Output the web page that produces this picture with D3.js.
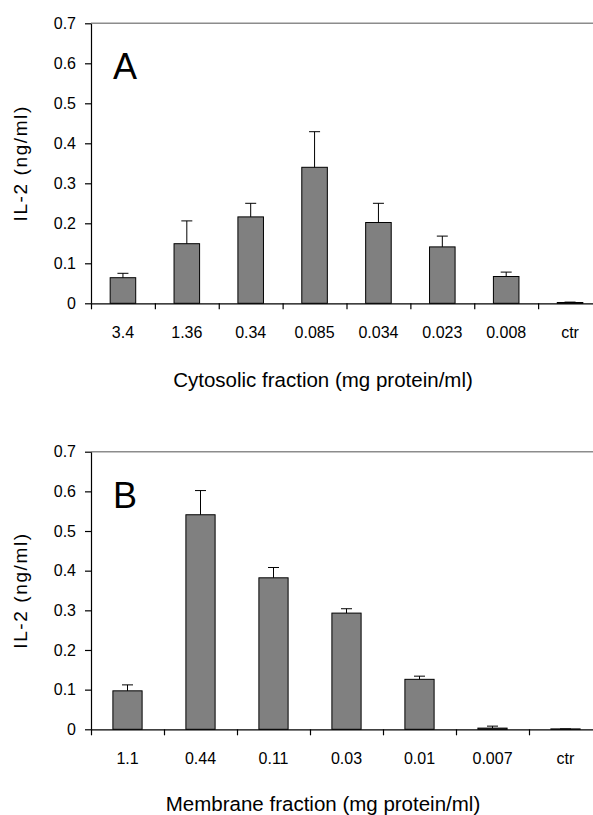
<!DOCTYPE html>
<html>
<head>
<meta charset="utf-8">
<script src="https://cdn.jsdelivr.net/npm/d3@7"></script>
<style>
  body { margin: 0; background: #fff; }
  svg { display: block; }
  text { font-family: "Liberation Sans", Arial, sans-serif; fill: #000; }
  .axis path, .axis line { stroke: #000; stroke-width: 1.2px; }
  .axis text { font-size: 16px; }
  .bar { fill: #808080; stroke: #000; stroke-width: 1px; }
  .err { stroke: #000; stroke-width: 1px; }
  .frame { stroke: #8c8c8c; stroke-width: 1.6px; }
</style>
</head>
<body>
<div id="chart"></div>
<script>
// Panel A: cytosolic fraction
var catsA = ['3.4', '1.36', '0.34', '0.085', '0.034', '0.023', '0.008', 'ctr']
var valsA = [0.064, 0.149, 0.216, 0.340, 0.202, 0.141, 0.067, 0.002]
var errsA = [0.011, 0.057, 0.034, 0.089, 0.048, 0.027, 0.011, 0.001]

// Panel B: membrane fraction
var catsB = ['1.1', '0.44', '0.11', '0.03', '0.01', '0.007', 'ctr']
var valsB = [0.097, 0.541, 0.382, 0.293, 0.126, 0.003, 0.001]
var errsB = [0.015, 0.061, 0.026, 0.011, 0.008, 0.005, 0.000]

var yTicks = [0, 0.1, 0.2, 0.3, 0.4, 0.5, 0.6, 0.7]

var W = 593, H = 815
var svg = d3.select('#chart').append('svg')
  .attr('width', W)
  .attr('height', H)

// Draw one bar panel
function panel(o) {
  var x0 = 91, x1 = 602
  var n = o.cats.length

  var x = d3.scaleBand()
    .domain(o.cats)
    .range([x0, x1])
  var edges = d3.scaleLinear()
    .domain([0, n])
    .range([x0, x1])
  var y = d3.scaleLinear()
    .domain([0, 0.7])
    .range([o.bottom, o.top])

  var g = svg.append('g')

  // Top frame (cosmetic)
  g.append('line')
    .classed('frame', true)
    .attr('x1', x0).attr('x2', x1)
    .attr('y1', y(0.7)).attr('y2', y(0.7))

  // y-axis
  g.append('g')
    .classed('axis', true)
    .attr('transform', 'translate(' + x0 + ',0)')
    .call(d3.axisLeft(y)
      .tickValues(yTicks)
      .tickSize(6)
      .tickSizeOuter(0)
      .tickPadding(9)
      .tickFormat(function(d) { return d === 0 ? '0' : d3.format('.1f')(d) }))

  // Bars
  var bw = x.bandwidth() * 0.4
  g.selectAll('.bar')
    .data(o.vals)
    .enter().append('rect')
    .classed('bar', true)
    .attr('x', function(d, i) { return x(o.cats[i]) + (x.bandwidth() - bw) / 2 })
    .attr('y', function(d) { return y(d) })
    .attr('width', bw)
    .attr('height', function(d) { return y(0) - y(d) })

  // Upper error bars
  var cap = 5.5
  var eb = g.selectAll('.errbar')
    .data(o.vals)
    .enter().append('g')
    .attr('transform', function(d, i) {
      return 'translate(' + (x(o.cats[i]) + x.bandwidth() / 2) + ',0)'
    })
  eb.append('line')
    .classed('err', true)
    .attr('y1', function(d) { return y(d) })
    .attr('y2', function(d, i) { return y(d + o.errs[i]) })
  eb.append('line')
    .classed('err', true)
    .attr('x1', -cap).attr('x2', cap)
    .attr('y1', function(d, i) { return y(d + o.errs[i]) })
    .attr('y2', function(d, i) { return y(d + o.errs[i]) })

  // x-axis labels, centred on bands
  var xa = g.append('g')
    .classed('axis', true)
    .attr('transform', 'translate(0,' + y(0) + ')')
    .call(d3.axisBottom(x)
      .tickSize(0)
      .tickSizeOuter(0)
      .tickPadding(23))
  xa.select('.domain').remove()

  // x-axis line with ticks on band edges
  g.append('g')
    .classed('axis', true)
    .attr('transform', 'translate(0,' + y(0) + ')')
    .call(d3.axisBottom(edges)
      .tickValues(d3.range(n + 1))
      .tickSize(6)
      .tickSizeOuter(0)
      .tickFormat(''))

  // Panel letter
  g.append('text')
    .attr('x', 113)
    .attr('y', y(0.7) + 56)
    .style('font-size', '36px')
    .text(o.letter)

  // y title
  g.append('text')
    .attr('transform', 'translate(27,' + (o.top + o.bottom) / 2 + ') rotate(-90)')
    .attr('text-anchor', 'middle')
    .style('font-size', '19px')
    .style('letter-spacing', '1.6px')
    .text('IL-2 (ng/ml)')

  // x title
  g.append('text')
    .attr('x', 323)
    .attr('y', o.xTitleY)
    .attr('text-anchor', 'middle')
    .style('font-size', '20.5px')
    .text(o.xTitle)
}

panel({
  cats: catsA, vals: valsA, errs: errsA,
  top: 23.3, bottom: 303.3,
  letter: 'A',
  xTitle: 'Cytosolic fraction (mg protein/ml)', xTitleY: 387
})

panel({
  cats: catsB, vals: valsB, errs: errsB,
  top: 451.7, bottom: 729.3,
  letter: 'B',
  xTitle: 'Membrane fraction (mg protein/ml)', xTitleY: 811
})
</script>
</body>
</html>
